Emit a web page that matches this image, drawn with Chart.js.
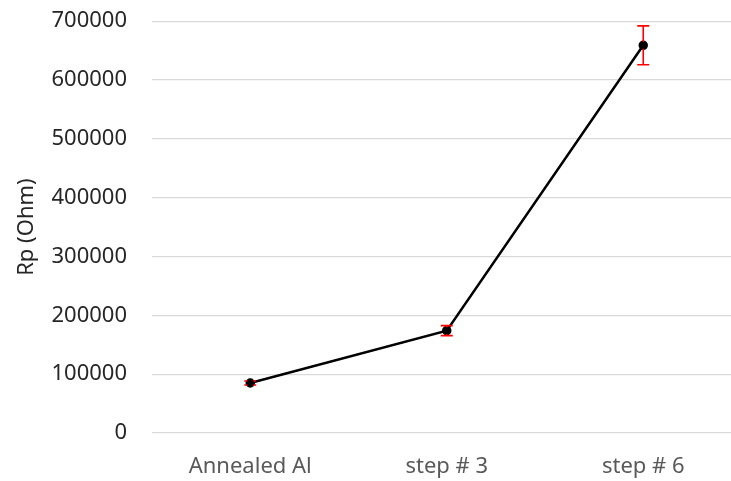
<!DOCTYPE html>
<html>
<head>
<meta charset="utf-8">
<script src="https://cdn.jsdelivr.net/npm/chart.js@4/dist/chart.umd.min.js"></script>
<style>
  html, body { margin: 0; padding: 0; background: #fff; overflow: hidden; }
  #wrap { width: 748px; height: 481px; }
</style>
</head>
<body>
<div id="wrap"><canvas id="chart" width="748" height="481"></canvas></div>
<script>
// --- data ---
const categories = ['Annealed Al', 'step # 3', 'step # 6'];
const rpValues = [85000, 174000, 659000];
const rpErrors = [3500, 8500, 33000];
const yTicks = [0, 100000, 200000, 300000, 400000, 500000, 600000, 700000];

const FONT = '"Noto Sans", "Open Sans", sans-serif';

// --- red error bars, drawn through the y scale ---
const errorBars = {
  id: 'errorBars',
  afterDatasetsDraw(chart) {
    const { ctx, scales: { x, y } } = chart;
    ctx.save();
    ctx.strokeStyle = '#ff0000';
    ctx.lineWidth = 1.6;
    rpValues.forEach((v, i) => {
      const px = x.getPixelForValue(i);
      const top = y.getPixelForValue(v + rpErrors[i]);
      const bot = y.getPixelForValue(v - rpErrors[i]);
      ctx.beginPath();
      ctx.moveTo(px, top); ctx.lineTo(px, bot);
      ctx.moveTo(px - 6, top); ctx.lineTo(px + 6, top);
      ctx.moveTo(px - 6, bot); ctx.lineTo(px + 6, bot);
      ctx.stroke();
    });
    // redraw points above the bars
    const meta = chart.getDatasetMeta(0);
    ctx.fillStyle = '#000';
    meta.data.forEach(p => {
      ctx.beginPath();
      ctx.arc(p.x, p.y, 3.5, 0, Math.PI * 2);
      ctx.fill();
    });
    ctx.restore();
  }
};

new Chart(document.getElementById('chart'), {
  type: 'line',
  data: {
    labels: categories,
    datasets: [{
      data: rpValues,
      borderColor: '#000',
      backgroundColor: '#000',
      borderWidth: 2.5,
      pointRadius: 3.5,
      tension: 0
    }]
  },
  options: {
    responsive: false,
    animation: false,
    layout: { padding: { top: 0, right: 1, left: 0, bottom: 0 } },
    plugins: { legend: { display: false }, tooltip: { enabled: false } },
    scales: {
      x: {
        offset: true,
        grid: { display: false },
        border: { display: false },
        ticks: { color: '#595959', font: { family: FONT, size: 22 }, padding: 13 },
        afterFit(s) { s.height = 48; }
      },
      y: {
        min: 0,
        max: 700000,
        afterBuildTicks(s) { s.ticks = yTicks.map(v => ({ value: v })); },
        grid: { color: '#d9d9d9', lineWidth: 1.3, drawTicks: true, tickLength: 17, tickColor: 'rgba(0,0,0,0)' },
        border: { display: false },
        ticks: {
          color: '#262626',
          font: { family: FONT, size: 22 },
          padding: 8,
          callback: v => String(v)
        },
        title: {
          display: true,
          text: 'Rp (Ohm)',
          color: '#262626',
          font: { family: FONT, size: 22 },
          padding: { top: 14, bottom: 0 }
        },
        afterFit(s) { s.width = 152; }
      }
    }
  },
  plugins: [errorBars]
});
</script>
</body>
</html>
